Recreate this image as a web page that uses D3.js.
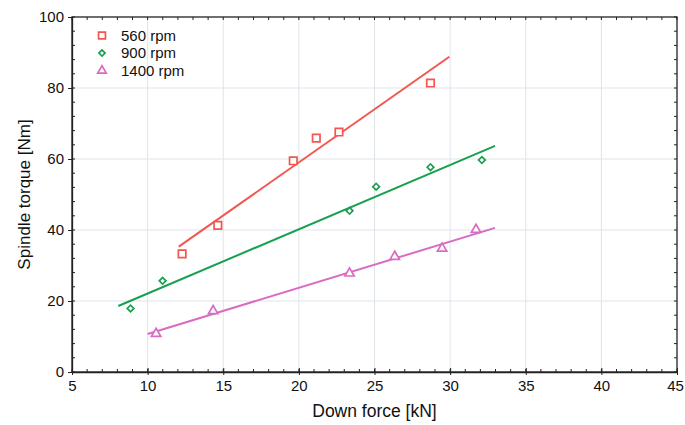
<!DOCTYPE html>
<html><head><meta charset="utf-8">
<script src="https://cdn.jsdelivr.net/npm/d3@7"></script>
<style>body{margin:0;background:#fff}svg{display:block}text{font-family:"Liberation Sans",Arial,sans-serif;fill:#111}</style>
</head><body><svg id="c" width="685" height="425"></svg>
<script>
const seriesNames = ["560 rpm", "900 rpm", "1400 rpm"];
const colors = ["#f2564e", "#17a04f", "#d96cc2"];
const x560 = [12.28, 14.64, 19.63, 21.15, 22.65, 28.70];
const y560 = [33.3, 41.3, 59.5, 65.9, 67.6, 81.4];
const x900 = [8.87, 10.99, 23.35, 25.11, 28.70, 32.10];
const y900 = [17.9, 25.7, 45.4, 52.2, 57.7, 59.7];
const x1400 = [10.56, 14.33, 23.35, 26.34, 29.47, 31.71];
const y1400 = [10.8, 17.2, 27.8, 32.5, 34.8, 40.1];
const fitX560 = [12.06, 29.95], fitY560 = [35.3, 88.8];
const fitX900 = [8.06, 32.97], fitY900 = [18.6, 63.7];
const fitX1400 = [10.0, 32.97], fitY1400 = [10.7, 40.6];
const xTicks = [5, 10, 15, 20, 25, 30, 35, 40, 45];
const yTicks = [0, 20, 40, 60, 80, 100];

const W = 685, H = 425, m = {l: 72, r: 8, t: 17, b: 53};
const svg = d3.select("#c");
const x = d3.scaleLinear().domain([5, 45]).range([m.l, W - m.r]);
const y = d3.scaleLinear().domain([0, 100]).range([H - m.b, m.t]);

// gridlines
const g = svg.append("g");
g.selectAll("line.gx").data(xTicks.slice(1, -1)).join("line")
  .attr("x1", d => x(d)).attr("x2", d => x(d)).attr("y1", y(0)).attr("y2", y(100))
  .attr("stroke", "#dfe4ea").attr("stroke-width", 1);
g.selectAll("line.gy").data(yTicks.slice(1, -1)).join("line")
  .attr("x1", x(5)).attr("x2", x(45)).attr("y1", d => y(d)).attr("y2", d => y(d))
  .attr("stroke", "#dfe4ea").attr("stroke-width", 1);

// minor ticks inside
const minorX = d3.range(5, 45.01, 1), minorY = d3.range(0, 100.01, 4);
const axG = svg.append("g").attr("stroke", "#222").attr("stroke-width", 1);
minorX.forEach(v => {
  axG.append("line").attr("x1", x(v)).attr("x2", x(v)).attr("y1", y(0)).attr("y2", y(0) - 3);
  axG.append("line").attr("x1", x(v)).attr("x2", x(v)).attr("y1", y(100)).attr("y2", y(100) + 3);
});
minorY.forEach(v => {
  axG.append("line").attr("x1", x(5)).attr("x2", x(5) + 3).attr("y1", y(v)).attr("y2", y(v));
  axG.append("line").attr("x1", x(45)).attr("x2", x(45) - 3).attr("y1", y(v)).attr("y2", y(v));
});

// axes
const xAxis = d3.axisBottom(x).tickValues(xTicks).tickSizeInner(-4).tickSizeOuter(0).tickPadding(8);
const yAxis = d3.axisLeft(y).tickValues(yTicks).tickSizeInner(4).tickSizeOuter(0).tickPadding(4);
const xa = svg.append("g").attr("transform", `translate(0,${y(0)})`).call(xAxis);
const ya = svg.append("g").attr("transform", `translate(${x(5)},0)`).call(yAxis);
[xa, ya].forEach(a => {
  a.selectAll("text").style("font-size", "15px").attr("fill", "#111");
  a.selectAll("line").attr("stroke", "#222");
  a.select(".domain").attr("stroke", "#222").attr("stroke-width", 1.3);
});
xa.selectAll(".tick line").attr("y1", 3);
xa.selectAll(".tick text").filter(d => d === 45).attr("dx", "-2");
// frame top/right
svg.append("rect").attr("x", x(5)).attr("y", y(100)).attr("width", x(45) - x(5)).attr("height", y(0) - y(100))
  .attr("fill", "none").attr("stroke", "#222").attr("stroke-width", 1.3);

// titles
svg.append("text").attr("x", (x(5) + x(45)) / 2).attr("y", 417).attr("text-anchor", "middle")
  .style("font-size", "17.5px").text("Down force [kN]");
svg.append("text").attr("transform", `translate(30,${(y(0) + y(100)) / 2}) rotate(-90)`).attr("text-anchor", "middle")
  .style("font-size", "17px").text("Spindle torque [Nm]");

// data
const series = [
  {xs: x560, ys: y560, fx: fitX560, fy: fitY560, sym: d3.symbolSquare, size: 56, rot: 0},
  {xs: x900, ys: y900, fx: fitX900, fy: fitY900, sym: d3.symbolSquare, size: 22, rot: 45},
  {xs: x1400, ys: y1400, fx: fitX1400, fy: fitY1400, sym: d3.symbolTriangle, size: 38, rot: 0}
];
const line = d3.line().x(d => x(d[0])).y(d => y(d[1]));
series.forEach((s, i) => {
  svg.append("path").attr("d", line(d3.zip(s.fx, s.fy))).attr("fill", "none")
    .attr("stroke", colors[i]).attr("stroke-width", 2);
  const sym = d3.symbol().type(s.sym).size(s.size);
  svg.selectAll(null).data(d3.zip(s.xs, s.ys)).join("path")
    .attr("d", sym).attr("transform", d => `translate(${x(d[0])},${y(d[1])}) rotate(${s.rot})`)
    .attr("fill", "#fff").attr("stroke", colors[i]).attr("stroke-width", 1.7);
});

// legend
const lg = svg.append("g");
seriesNames.forEach((n, i) => {
  const yy = 35.5 + i * 17.6;
  const s = series[i];
  lg.append("path").attr("d", d3.symbol().type(s.sym).size(s.size * 0.85)())
    .attr("transform", `translate(102,${yy}) rotate(${s.rot})`)
    .attr("fill", "#fff").attr("stroke", colors[i]).attr("stroke-width", 1.7);
  lg.append("text").attr("x", 121).attr("y", yy + 5).style("font-size", "15px").text(n);
});
</script></body></html>
